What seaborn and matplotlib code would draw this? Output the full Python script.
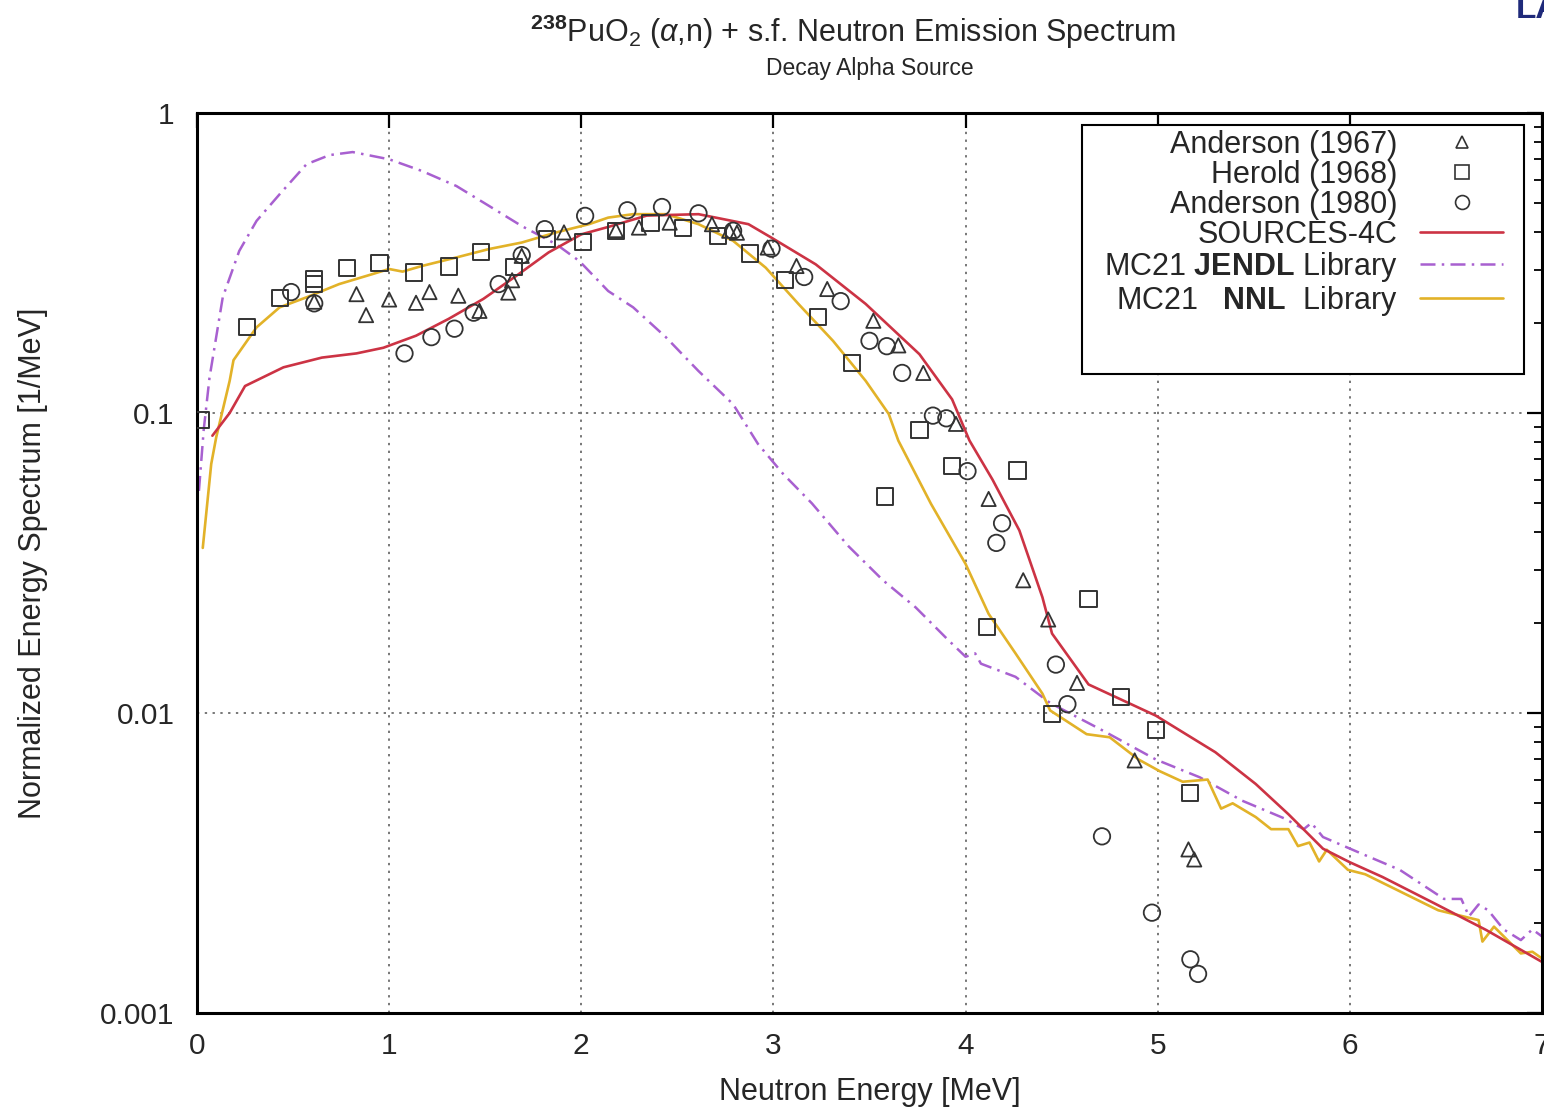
import numpy as np
import pandas as pd
import matplotlib
matplotlib.use("Agg")
import matplotlib.pyplot as plt
import seaborn as sns
from matplotlib.patches import Rectangle
from matplotlib.lines import Line2D
from matplotlib.ticker import LogLocator, NullFormatter, FixedLocator, FixedFormatter

# ---------------- data ----------------
src_x = [0.08, 0.17, 0.25, 0.45, 0.65, 0.83, 0.97, 1.14, 1.31, 1.49, 1.66, 1.83, 2.00, 2.14,
         2.34, 2.61, 2.87, 2.99, 3.22, 3.48, 3.76, 3.93, 4.02, 4.14, 4.28, 4.40, 4.45, 4.64,
         4.99, 5.30, 5.51, 5.68, 5.86, 6.00, 6.17, 6.44, 6.71, 7.00]
src_y = [0.084, 0.100, 0.123, 0.142, 0.153, 0.158, 0.165, 0.181, 0.206, 0.240, 0.286, 0.343,
         0.394, 0.417, 0.455, 0.460, 0.426, 0.384, 0.313, 0.231, 0.157, 0.111, 0.081, 0.060,
         0.0406, 0.0243, 0.0184, 0.01245, 0.0098, 0.0074, 0.0058, 0.0046, 0.00353, 0.00318,
         0.00284, 0.00232, 0.00189, 0.00148]

jendl_x = [0.01, 0.035, 0.065, 0.134, 0.22, 0.31, 0.43, 0.57, 0.69, 0.81, 1.00, 1.17, 1.35,
           1.52, 1.69, 1.87, 1.99, 2.14, 2.27, 2.44, 2.61, 2.79, 2.92, 3.05, 3.20, 3.39, 3.57,
           3.74, 3.91, 4.00, 4.05, 4.08, 4.26, 4.44, 4.72, 4.99, 5.22, 5.44, 5.66, 5.76, 5.80,
           5.86, 6.06, 6.26, 6.49, 6.58, 6.62, 6.67, 6.72, 6.80, 6.89, 6.95, 7.00]
jendl_y = [0.055, 0.088, 0.131, 0.243, 0.347, 0.437, 0.536, 0.675, 0.724, 0.741, 0.701, 0.641,
           0.571, 0.490, 0.420, 0.365, 0.321, 0.255, 0.225, 0.179, 0.138, 0.107, 0.0788,
           0.0627, 0.050, 0.036, 0.0277, 0.0225, 0.0175, 0.0154, 0.0158, 0.0146, 0.0132,
           0.0108, 0.0087, 0.0070, 0.0061, 0.0051, 0.00445, 0.0041, 0.0043, 0.00386, 0.0034,
           0.0030, 0.0024, 0.0024, 0.0021, 0.0023, 0.0022, 0.0019, 0.00175, 0.0019, 0.0018]

nnl_x = [0.03, 0.074, 0.10, 0.17, 0.19, 0.31, 0.43, 0.57, 0.74, 0.91, 1.00, 1.07, 1.17, 1.35,
         1.52, 1.69, 1.87, 2.04, 2.14, 2.27, 2.44, 2.61, 2.79, 2.96, 3.13, 3.31, 3.48, 3.60,
         3.65, 3.82, 4.00, 4.12, 4.26, 4.40, 4.44, 4.63, 4.75, 4.90, 5.01, 5.13, 5.26, 5.33,
         5.39, 5.51, 5.59, 5.68, 5.73, 5.79, 5.84, 5.88, 5.99, 6.08, 6.46, 6.67, 6.69, 6.75,
         6.89, 6.95, 7.00]
nnl_y = [0.0355, 0.0676, 0.083, 0.128, 0.150, 0.193, 0.225, 0.243, 0.269, 0.290, 0.302, 0.296,
         0.309, 0.330, 0.352, 0.370, 0.400, 0.426, 0.448, 0.460, 0.460, 0.426, 0.375, 0.305,
         0.231, 0.174, 0.128, 0.0993, 0.0809, 0.0498, 0.0314, 0.0214, 0.0158, 0.0116, 0.0102,
         0.0085, 0.0083, 0.0070, 0.0064, 0.0059, 0.0060, 0.0048, 0.0050, 0.0045, 0.0041,
         0.0041, 0.0036, 0.0037, 0.0032, 0.0035, 0.0030, 0.0029, 0.0022, 0.00204, 0.00173,
         0.00194, 0.00158, 0.0016, 0.00152]

and67_x = [0.61, 0.83, 0.88, 1.00, 1.14, 1.21, 1.36, 1.47, 1.62, 1.64, 1.69, 1.91, 2.18, 2.30,
           2.46, 2.68, 2.77, 2.81, 2.97, 3.12, 3.28, 3.52, 3.65, 3.78, 3.95, 4.12, 4.30, 4.43,
           4.58, 4.88, 5.16, 5.19]
and67_y = [0.235, 0.249, 0.212, 0.239, 0.233, 0.253, 0.246, 0.219, 0.252, 0.277, 0.334, 0.400,
           0.407, 0.415, 0.431, 0.426, 0.405, 0.399, 0.356, 0.309, 0.259, 0.203, 0.168, 0.136,
           0.092, 0.0517, 0.0277, 0.0205, 0.0126, 0.00695, 0.00351, 0.00325]

her68_x = [0.02, 0.26, 0.43, 0.61, 0.61, 0.78, 0.95, 1.13, 1.31, 1.48, 1.65, 1.82, 2.01, 2.18,
           2.36, 2.53, 2.71, 2.88, 3.06, 3.23, 3.41, 3.58, 3.76, 3.93, 4.11, 4.27, 4.45, 4.64,
           4.81, 4.99, 5.17]
her68_y = [0.095, 0.194, 0.241, 0.279, 0.270, 0.305, 0.317, 0.294, 0.308, 0.345, 0.307, 0.381,
           0.372, 0.405, 0.431, 0.415, 0.389, 0.340, 0.277, 0.209, 0.147, 0.0527, 0.0878,
           0.0667, 0.0193, 0.0643, 0.00995, 0.0240, 0.0113, 0.00879, 0.00541]

and80_x = [0.49, 0.61, 1.08, 1.22, 1.34, 1.44, 1.57, 1.69, 1.81, 2.02, 2.24, 2.42, 2.61, 2.79,
           2.99, 3.16, 3.35, 3.50, 3.59, 3.67, 3.83, 3.90, 4.01, 4.19, 4.16, 4.47, 4.53, 4.71,
           4.97, 5.17, 5.21]
and80_y = [0.253, 0.232, 0.158, 0.179, 0.191, 0.216, 0.269, 0.336, 0.410, 0.454, 0.474, 0.486,
           0.463, 0.405, 0.353, 0.284, 0.236, 0.174, 0.167, 0.136, 0.098, 0.096, 0.064, 0.0429,
           0.0369, 0.0145, 0.0107, 0.00388, 0.00216, 0.00151, 0.00135]

x_ticks = [0, 1, 2, 3, 4, 5, 6, 7]
y_ticks = [0.001, 0.01, 0.1, 1]
y_tick_labels = ["0.001", "0.01", "0.1", "1"]

labels = ["Anderson (1967)", "Herold (1968)", "Anderson (1980)", "SOURCES-4C",
          r"MC21 $\mathbf{JENDL}$ Library", r"MC21   $\mathbf{NNL}$  Library"]

# ---------------- style ----------------
sns.set_theme(style="white")
plt.rcParams["font.family"] = ["Liberation Sans", "DejaVu Sans"]
plt.rcParams["mathtext.fontset"] = "custom"
plt.rcParams["mathtext.rm"] = "Liberation Sans"
plt.rcParams["mathtext.it"] = "Liberation Sans:italic"
plt.rcParams["mathtext.bf"] = "Liberation Sans:bold"

RED = "#cc3344"
PURPLE = "#a860d0"
GOLD = "#e2b228"
MK = "#333333"

fig = plt.figure(figsize=(15.44, 11.09), dpi=100)
ax = fig.add_axes([197 / 1544, 1 - 1013 / 1109, (1542 - 197) / 1544, 900 / 1109])

# lines
sns.lineplot(x=jendl_x, y=jendl_y, color=PURPLE, lw=1.8, linestyle=(0, (6, 2.5, 1, 2.5)),
             sort=False, estimator=None, ax=ax, zorder=2)
sns.lineplot(x=nnl_x, y=nnl_y, color=GOLD, lw=1.9, sort=False, estimator=None, ax=ax, zorder=2)
sns.lineplot(x=src_x, y=src_y, color=RED, lw=1.9, sort=False, estimator=None, ax=ax, zorder=2)

# data points
sns.scatterplot(x=and67_x, y=and67_y, marker="^", s=105, facecolor="none", edgecolor=MK,
                linewidth=1.3, ax=ax, zorder=3)
sns.scatterplot(x=her68_x, y=her68_y, marker="s", s=135, facecolor="none", edgecolor=MK,
                linewidth=1.4, ax=ax, zorder=3)
sns.scatterplot(x=and80_x, y=and80_y, marker="o", s=140, facecolor="none", edgecolor=MK,
                linewidth=1.3, ax=ax, zorder=3)

ax.set_yscale("log")
ax.set_xlim(0, 7)
ax.set_ylim(1e-3, 1)

ax.xaxis.set_major_locator(FixedLocator(x_ticks))
ax.yaxis.set_major_locator(FixedLocator(y_ticks))
ax.yaxis.set_major_formatter(FixedFormatter(y_tick_labels))
ax.yaxis.set_minor_locator(LogLocator(base=10, subs=np.arange(2, 10)))
ax.yaxis.set_minor_formatter(NullFormatter())
ax.xaxis.set_minor_locator(FixedLocator([]))

ax.tick_params(which="both", direction="in", top=True, right=True, color="black")
ax.tick_params(which="major", length=11, width=1.6, labelsize=21.5)
ax.tick_params(which="minor", length=6, width=1.3)
ax.tick_params(axis="x", which="major", pad=14)
ax.tick_params(axis="y", which="major", pad=16)

ax.grid(True, which="major", color="#777777", linestyle=(0, (1.2, 2.8)), linewidth=1.4)
for sp in ax.spines.values():
    sp.set_color("black")
    sp.set_linewidth(2.2)

ax.set_xlabel("Neutron Energy [MeV]", fontsize=22)
ax.set_ylabel("Normalized Energy Spectrum [1/MeV]", fontsize=22)
ax.xaxis.set_label_coords(0.5, -0.071)
ax.yaxis.set_label_coords(-0.1106, 0.5)

# legend box
ax.add_patch(Rectangle((0.658, 0.71), 0.3286, 0.2767, transform=ax.transAxes,
                       facecolor="white", edgecolor="black", lw=1.5, zorder=4))
handles = [
    Line2D([], [], ls="none", marker="^", ms=9, mfc="none", mec=MK, mew=1.2),
    Line2D([], [], ls="none", marker="s", ms=10, mfc="none", mec=MK, mew=1.2),
    Line2D([], [], ls="none", marker="o", ms=10, mfc="none", mec=MK, mew=1.2),
    Line2D([], [], color=RED, lw=1.9),
    Line2D([], [], color=PURPLE, lw=1.8, linestyle=(0, (6, 2.5, 1, 2.5))),
    Line2D([], [], color=GOLD, lw=1.9),
]
leg = ax.legend(handles, labels, loc="upper right", bbox_to_anchor=(0.971, 0.981),
                markerfirst=False, frameon=False, fontsize=22, handlelength=2.7,
                handletextpad=0.75, labelspacing=0.0, borderpad=0, borderaxespad=0)
leg.set_zorder(5)

# titles
fig.text(853 / 1544, 1 - 32 / 1109,
         r"$^{\mathbf{238}}$PuO$_2$ ($\alpha$,n) + s.f. Neutron Emission Spectrum",
         ha="center", va="center", fontsize=22)
fig.text(870 / 1544, 1 - 68 / 1109, "Decay Alpha Source", ha="center", va="center",
         fontsize=16.5)
fig.text(1516 / 1544, 1.005, "LA", ha="left", va="top", fontsize=24, fontweight="bold",
         color="#1f2a7a")

fig.savefig("out.png", dpi=100)
